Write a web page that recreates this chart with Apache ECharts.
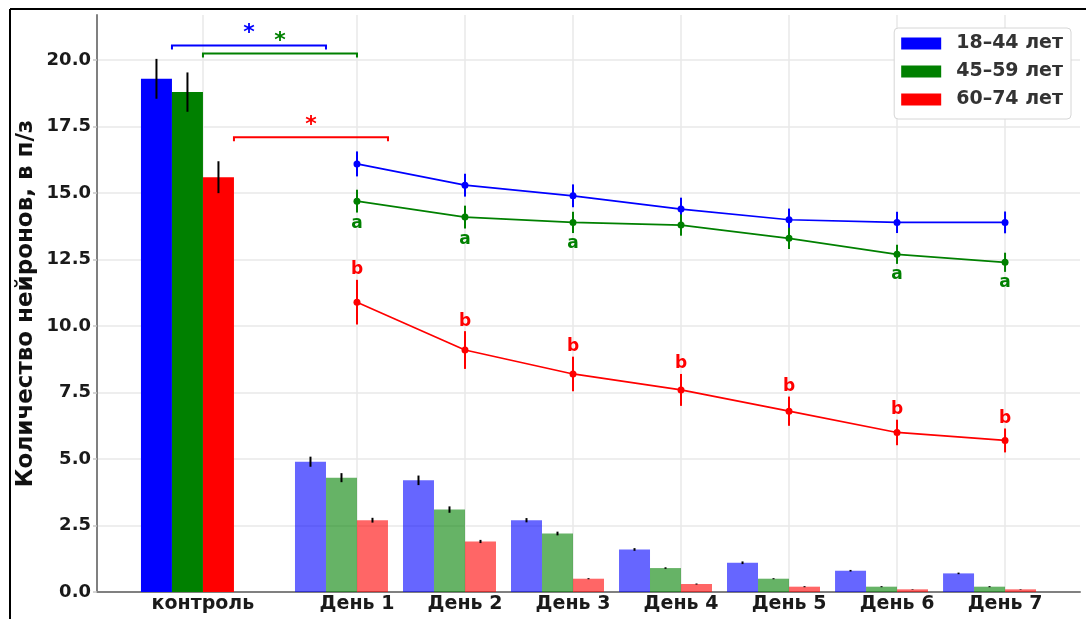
<!DOCTYPE html>
<html>
<head>
<meta charset="utf-8">
<script src="https://cdn.jsdelivr.net/npm/echarts@6/dist/echarts.min.js"></script>
<style>
  html, body { margin: 0; padding: 0; background: #fff; }
  #chart { width: 1086px; height: 619px; }
</style>
</head>
<body>
<div id="chart"></div>
<script>
// Categories and where they sit on the x scale
const categories = ['контроль', 'День 1', 'День 2', 'День 3', 'День 4', 'День 5', 'День 6', 'День 7'];
const tickPositions = [-0.426, 1, 2, 3, 4, 5, 6, 7];

// Age groups
const groups = ['18–44 лет', '45–59 лет', '60–74 лет'];

// Bars: control, then days 1..7 (mean and error)
const bars18 = [19.3, 4.9, 4.2, 2.7, 1.6, 1.1, 0.8, 0.7];
const barsErr18 = [0.75, 0.19, 0.18, 0.08, 0.05, 0.05, 0.03, 0.03];
const bars45 = [18.8, 4.3, 3.1, 2.2, 0.9, 0.5, 0.2, 0.2];
const barsErr45 = [0.74, 0.17, 0.12, 0.07, 0.03, 0.02, 0.02, 0.02];
const bars60 = [15.6, 2.7, 1.9, 0.5, 0.3, 0.2, 0.1, 0.1];
const barsErr60 = [0.6, 0.09, 0.06, 0.02, 0.02, 0.02, 0.01, 0.01];

// Lines over days 1..7 (mean and error)
const line18 = [16.1, 15.3, 14.9, 14.4, 14.0, 13.9, 13.9];
const lineErr18 = [0.47, 0.43, 0.43, 0.43, 0.42, 0.4, 0.41];
const line45 = [14.7, 14.1, 13.9, 13.8, 13.3, 12.7, 12.4];
const lineErr45 = [0.43, 0.43, 0.4, 0.4, 0.4, 0.36, 0.36];
const line60 = [10.9, 9.1, 8.2, 7.6, 6.8, 6.0, 5.7];
const lineErr60 = [0.84, 0.71, 0.65, 0.6, 0.55, 0.48, 0.45];

// Significance letters per day
const marks45 = ['a', 'a', 'a', '', '', 'a', 'a'];
const marks60 = ['b', 'b', 'b', 'b', 'b', 'b', 'b'];

// Control vs day 1 comparison brackets (level on the y scale) with star
const bracketLevels = [20.55, 20.25, 17.1];
const bracketText = ['*', '*', '*'];

// Y ticks
const yTicks = [0, 2.5, 5, 7.5, 10, 12.5, 15, 17.5, 20];

// ---- style and layout ----
const FONT = '"DejaVu Sans", sans-serif';
const colors = ['#0000ff', '#008000', '#ff0000'];
const BAR_W = 0.287;
const DAY_ALPHA = 0.6;

const barMeans = [bars18, bars45, bars60];
const barErrs = [barsErr18, barsErr45, barsErr60];
const lineMeans = [line18, line45, line60];
const lineErrs = [lineErr18, lineErr45, lineErr60];
const dayPositions = tickPositions.slice(1);

function labelFor(v) {
  for (let i = 0; i < tickPositions.length; i++) {
    if (Math.abs(tickPositions[i] - v) < 1e-6) return categories[i];
  }
  return '';
}

const series = [];

// Bars with black error bars
groups.forEach((name, g) => {
  series.push({
    type: 'custom',
    name: name,
    itemStyle: { color: colors[g] },
    z: 2,
    data: barMeans[g].map((v, i) => [tickPositions[i] + (g - 2) * BAR_W, v, barErrs[g][i]]),
    renderItem: function (params, api) {
      const left = api.value(0), val = api.value(1), err = api.value(2);
      const p0 = api.coord([left, val]);
      const p1 = api.coord([left + BAR_W, 0]);
      const cx = api.coord([left + BAR_W / 2, 0])[0];
      const eTop = api.coord([0, val + err])[1];
      const eBot = api.coord([0, val - err])[1];
      return {
        type: 'group',
        children: [
          {
            type: 'rect',
            shape: { x: p0[0], y: p0[1], width: p1[0] - p0[0], height: p1[1] - p0[1] },
            style: { fill: colors[g], opacity: params.dataIndex === 0 ? 1 : DAY_ALPHA }
          },
          {
            type: 'line',
            shape: { x1: cx, y1: eTop, x2: cx, y2: eBot },
            style: { stroke: '#000', lineWidth: 2 }
          }
        ]
      };
    }
  });
});

// Lines with markers
groups.forEach((name, g) => {
  series.push({
    type: 'line',
    name: name,
    z: 4,
    symbol: 'circle',
    symbolSize: 7,
    lineStyle: { color: colors[g], width: 1.7 },
    itemStyle: { color: colors[g] },
    data: lineMeans[g].map((v, i) => [dayPositions[i], v])
  });
  // line error bars
  series.push({
    type: 'custom',
    name: name,
    z: 4,
    itemStyle: { color: colors[g] },
    data: lineMeans[g].map((v, i) => [dayPositions[i], v, lineErrs[g][i]]),
    renderItem: function (params, api) {
      const x = api.value(0), val = api.value(1), err = api.value(2);
      const t = api.coord([x, val + err]);
      const b = api.coord([x, val - err]);
      return {
        type: 'line',
        shape: { x1: t[0], y1: t[1], x2: b[0], y2: b[1] },
        style: { stroke: colors[g], lineWidth: 2 }
      };
    }
  });
});

// Significance letters: 'a' under the 45–59 line, 'b' over the 60–74 line
[[1, marks45, 1], [2, marks60, -1]].forEach(([g, marks, dir]) => {
  series.push({
    type: 'custom',
    name: groups[g],
    z: 5,
    itemStyle: { color: colors[g] },
    data: lineMeans[g].map((v, i) => [dayPositions[i], v, lineErrs[g][i]]),
    renderItem: function (params, api) {
      const txt = marks[params.dataIndex];
      if (!txt) return null;
      const x = api.value(0), val = api.value(1), err = api.value(2);
      const p = api.coord([x, dir > 0 ? val - err : val + err]);
      return {
        type: 'text',
        x: p[0],
        y: p[1] + (dir > 0 ? 11 : -10),
        style: {
          text: txt, fill: colors[g], font: 'bold 17px ' + FONT,
          align: 'center', verticalAlign: 'middle'
        }
      };
    }
  });
});

// Comparison brackets
series.push({
  type: 'custom',
  name: 'brackets',
  z: 5,
  data: bracketLevels.map((lvl, g) => [tickPositions[0] + (g - 1) * BAR_W, lvl, tickPositions[1] + (g - 1) * BAR_W]),
  renderItem: function (params, api) {
    const g = params.dataIndex;
    const from = api.value(0), lvl = api.value(1), to = api.value(2);
    const p0 = api.coord([from, lvl]);
    const p1 = api.coord([to, lvl]);
    return {
      type: 'group',
      children: [
        {
          type: 'polyline',
          shape: { points: [[p0[0], p0[1] + 4], [p0[0], p0[1]], [p1[0], p1[1]], [p1[0], p1[1] + 4]] },
          style: { stroke: colors[g], lineWidth: 2, fill: null }
        },
        {
          type: 'text',
          x: (p0[0] + p1[0]) / 2,
          y: p0[1] - 12.5,
          style: {
            text: bracketText[g], fill: colors[g], font: 'bold 22px ' + FONT,
            align: 'center', verticalAlign: 'middle'
          }
        }
      ]
    };
  }
});

const option = {
  animation: false,
  backgroundColor: '#fff',
  textStyle: { fontFamily: FONT },
  grid: { left: 97, right: 6, top: 15, bottom: 27, containLabel: false },
  legend: {
    orient: 'vertical',
    right: 15,
    top: 28,
    padding: [5, 8, 9, 7],
    itemWidth: 40,
    itemHeight: 12,
    itemGap: 7,
    icon: 'rect',
    backgroundColor: '#fff',
    borderColor: '#d6d6d6',
    borderWidth: 1,
    borderRadius: 4,
    data: groups.map((n, g) => ({ name: n, itemStyle: { color: colors[g] } })),
    textStyle: {
      fontFamily: FONT, fontWeight: 'bold', fontSize: 19, color: '#333',
      lineHeight: 21, padding: [0, 0, 0, 10]
    }
  },
  xAxis: {
    type: 'value',
    min: -1.407,
    max: 7.694,
    axisLine: { show: true, lineStyle: { color: '#808080', width: 2 } },
    axisTick: { show: false, customValues: tickPositions },
    axisLabel: {
      customValues: tickPositions,
      formatter: labelFor,
      color: '#1a1a1a', fontWeight: 'bold', fontSize: 19, fontFamily: FONT, margin: 3
    },
    splitLine: { show: true, lineStyle: { color: '#e8e8e8', width: 1.5 } }
  },
  yAxis: {
    type: 'value',
    min: 0,
    max: 21.7,
    name: 'Количество нейронов, в п/з',
    nameLocation: 'middle',
    nameGap: 59,
    nameMoveOverlap: false,
    nameTextStyle: { fontFamily: FONT, fontWeight: 'bold', fontSize: 23, color: '#111' },
    axisLine: { show: true, onZero: false, lineStyle: { color: '#808080', width: 2 } },
    axisTick: { show: true, length: 4, customValues: yTicks, lineStyle: { color: '#c8c8c8', width: 1.5 } },
    axisLabel: {
      customValues: yTicks,
      formatter: v => v.toFixed(1),
      color: '#1a1a1a', fontWeight: 'bold', fontSize: 18, fontFamily: FONT, margin: 6
    },
    splitLine: { show: true, lineStyle: { color: '#e8e8e8', width: 1.5 } }
  },
  graphic: [
    { type: 'line', z: 100, shape: { x1: 10, y1: 9, x2: 10, y2: 619 }, style: { stroke: '#000', lineWidth: 2 } },
    { type: 'line', z: 100, shape: { x1: 10, y1: 9, x2: 1086, y2: 9 }, style: { stroke: '#000', lineWidth: 2 } }
  ],
  series: series
};

const chart = echarts.init(document.getElementById('chart'));
chart.setOption(option);
</script>
</body>
</html>
